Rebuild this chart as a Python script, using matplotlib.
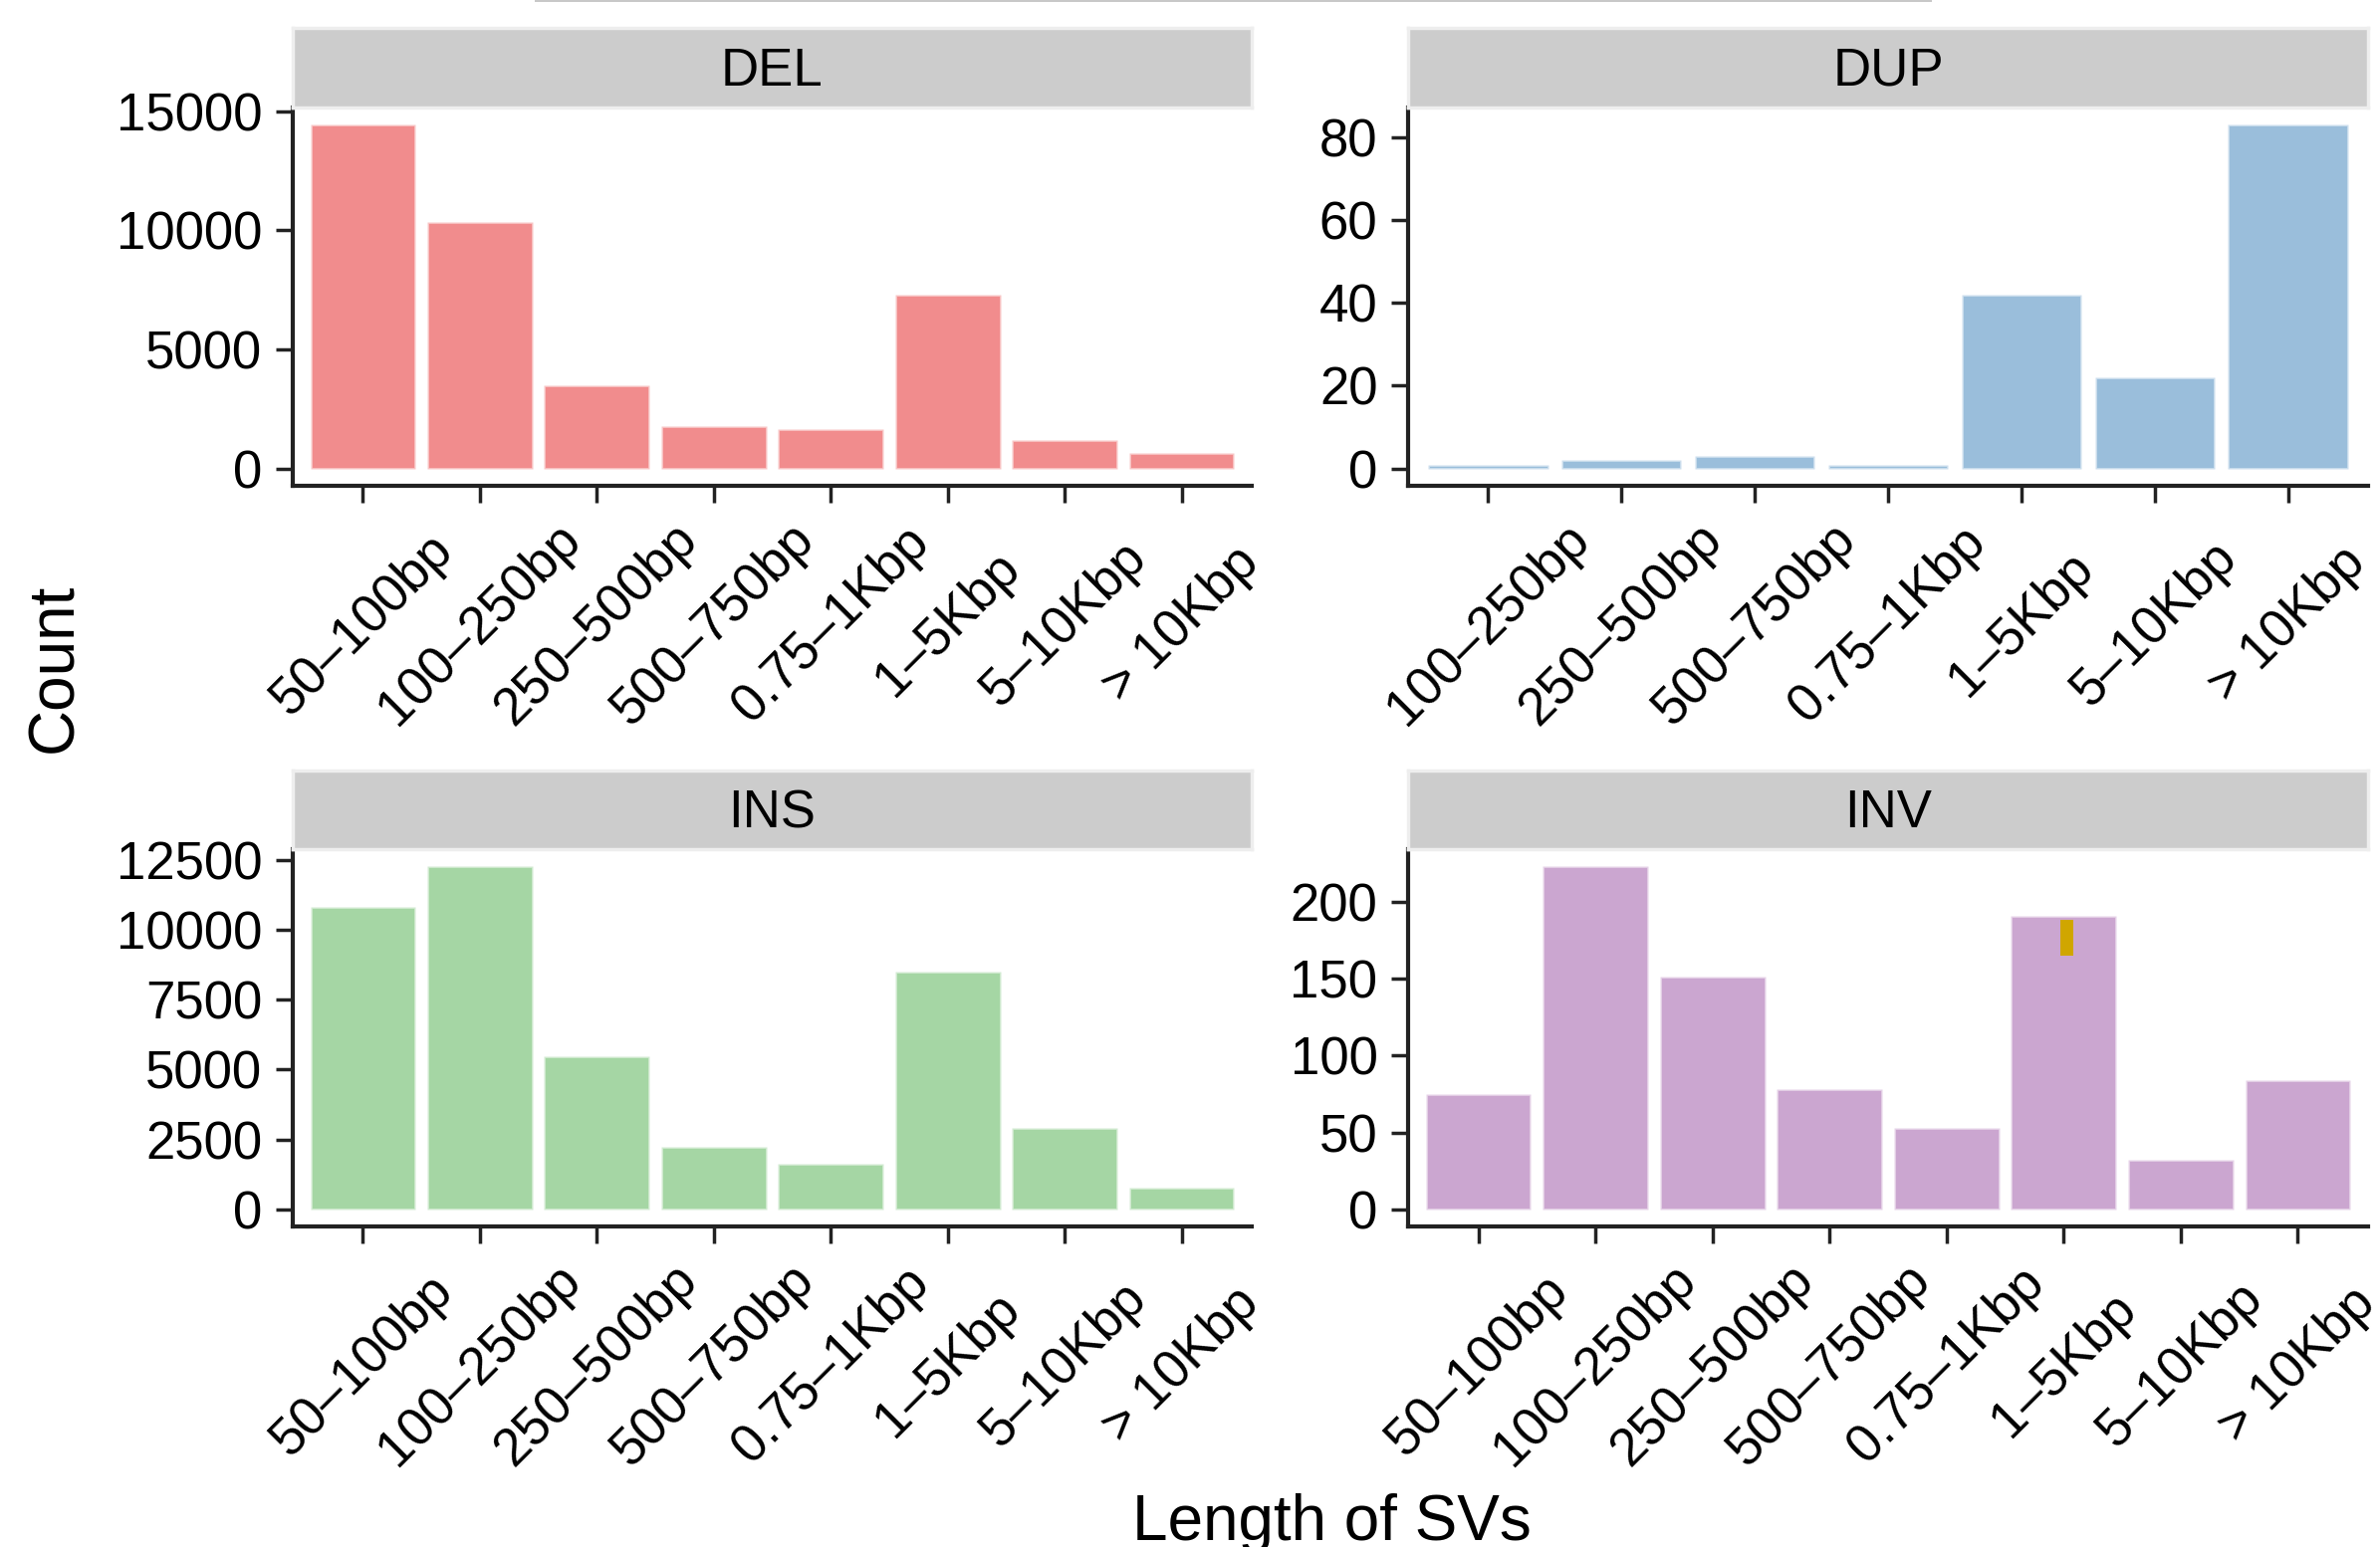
import matplotlib
matplotlib.use("Agg")
import matplotlib.pyplot as plt
from matplotlib.patches import Rectangle
import numpy as np

plt.rcParams['font.family'] = ['Liberation Sans', 'DejaVu Sans']

# Data
cats_all = ["50–100bp", "100–250bp", "250–500bp", "500–750bp",
            "0.75–1Kbp", "1–5Kbp", "5–10Kbp", "> 10Kbp"]
cats_dup = cats_all[1:]

del_counts = [14430, 10360, 3500, 1780, 1650, 7310, 1210, 640]
dup_counts = [1, 2, 3, 1, 42, 22, 83]
ins_counts = [10820, 12280, 5470, 2220, 1620, 8500, 2920, 760]
inv_counts = [75, 223, 151, 78, 53, 191, 32, 84]

# small yellow mark sitting on the INV 1-5Kbp bar
mark_cat = "1–5Kbp"
mark_low, mark_high = 165, 188

# Set1 colours (drawn at alpha 0.5 like the reference)
colors = {"DEL": "#E41A1C", "DUP": "#377EB8", "INS": "#4DAF4A", "INV": "#984EA3"}

W, H = 2390, 1554
fig = plt.figure(figsize=(W / 100, H / 100), dpi=100)


def px_box(x0, y0, x1, y1):
    # pixel box (y from top) -> figure fraction rect
    return [x0 / W, 1 - y1 / H, (x1 - x0) / W, (y1 - y0) / H]


panels = [
    ("DEL", cats_all, del_counts, 294, 1257, 28, 108, 488, np.arange(0, 15001, 5000)),
    ("DUP", cats_dup, dup_counts, 1414, 2378, 28, 108, 488, np.arange(0, 81, 20)),
    ("INS", cats_all, ins_counts, 294, 1257, 774, 853, 1232, np.arange(0, 12501, 2500)),
    ("INV", cats_all, inv_counts, 1414, 2378, 774, 853, 1232, np.arange(0, 201, 50)),
]

for name, cats, counts, x0, x1, s0, y0, y1, yticks in panels:
    ax = fig.add_axes(px_box(x0, y0, x1, y1))
    x = np.arange(len(cats))
    ax.bar(x, counts, width=0.9, color=colors[name], alpha=0.5,
           edgecolor="white", linewidth=2)
    top = max(counts)
    ax.set_xlim(-0.6, len(cats) - 0.4)
    ax.set_ylim(-0.05 * top, 1.05 * top)
    ax.set_yticks(yticks)
    ax.set_yticklabels([str(v) for v in yticks])
    ax.set_xticks(x)
    # labels centred under each tick, like ggplot angle=45 with centred just
    ax.set_xticklabels(cats, rotation=45, ha="center", va="center",
                       rotation_mode="anchor")
    for sp in ["top", "right"]:
        ax.spines[sp].set_visible(False)
    for sp in ["left", "bottom"]:
        ax.spines[sp].set_linewidth(3)
        ax.spines[sp].set_color("#222222")
    ax.tick_params(axis="both", length=12, width=2.5, color="#222222",
                   labelsize=38, labelcolor="black")
    ax.tick_params(axis="y", pad=10)
    ax.tick_params(axis="x", pad=88)

    if name == "INV":
        i = cats.index(mark_cat)
        ax.bar(i + 0.03, mark_high - mark_low, bottom=mark_low, width=0.11,
               color="#D0A600", linewidth=0)

    # facet strip
    sax = fig.add_axes(px_box(x0, s0, x1, y0))
    sax.set_xticks([])
    sax.set_yticks([])
    sax.set_facecolor("#CCCCCC")
    for sp in sax.spines.values():
        sp.set_color("#EEEEEE")
        sp.set_linewidth(2.5)
    sax.text(0.5, 0.45, name, transform=sax.transAxes, ha="center",
             va="center", fontsize=38, color="black")

# bottom edge of a cropped title box at the very top
fig.add_artist(Rectangle((537 / W, 1 - 2 / H), (1940 - 537) / W, 2 / H,
                         transform=fig.transFigure, color="#C8C8C8", lw=0))

fig.text(55 / W, 1 - 671 / H, "Count", rotation=90, ha="center",
         va="center", fontsize=46)
fig.text(1337 / W, 1 - 1500 / H, "Length of SVs", ha="center",
         va="top", fontsize=46)

fig.savefig("out.png", dpi=100, facecolor="white")
